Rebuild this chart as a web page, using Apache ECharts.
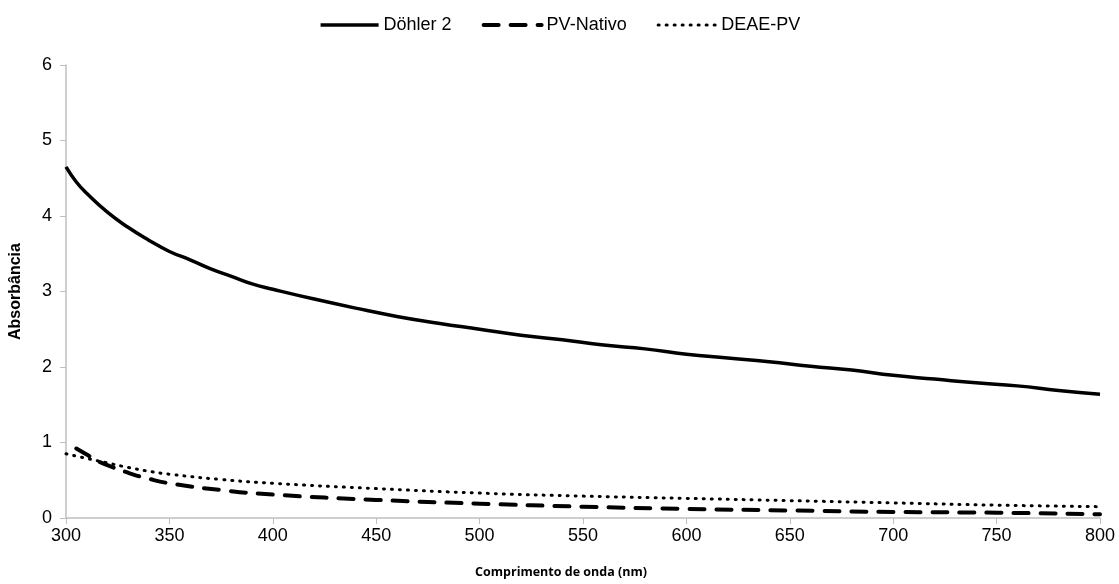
<!DOCTYPE html>
<html>
<head>
<meta charset="utf-8">
<script src="https://cdn.jsdelivr.net/npm/echarts@6/dist/echarts.min.js"></script>
<style>
  html, body { margin: 0; padding: 0; background: #fff; }
  #main { width: 1119px; height: 584px; }
</style>
</head>
<body>
<div id="main"></div>
<script>
// valores (comprimento de onda em nm, absorbância)
var seriesNames = ['Döhler 2', 'PV-Nativo', 'DEAE-PV'];

var dohlerX = [300, 305, 310, 320, 330, 340, 350, 360, 370, 380, 390, 400, 420, 440, 460, 480, 500, 520, 540, 560, 580, 600, 620, 640, 660, 680, 700, 720, 740, 760, 780, 800];
var dohlerY = [4.65, 4.45, 4.3, 4.05, 3.85, 3.68, 3.53, 3.42, 3.3, 3.2, 3.1, 3.03, 2.9, 2.78, 2.67, 2.58, 2.5, 2.42, 2.36, 2.29, 2.24, 2.17, 2.12, 2.07, 2.01, 1.96, 1.89, 1.84, 1.79, 1.75, 1.69, 1.64];

var nativoX = [305, 310, 315, 320, 330, 340, 350, 375, 400, 450, 500, 550, 600, 650, 700, 750, 800];
var nativoY = [0.92, 0.84, 0.76, 0.7, 0.6, 0.52, 0.46, 0.37, 0.31, 0.24, 0.19, 0.15, 0.12, 0.1, 0.08, 0.07, 0.05];

var deaeX = [300, 310, 320, 330, 340, 350, 375, 400, 450, 500, 550, 600, 650, 700, 750, 800];
var deaeY = [0.85, 0.79, 0.73, 0.67, 0.62, 0.58, 0.51, 0.46, 0.39, 0.33, 0.29, 0.26, 0.23, 0.2, 0.17, 0.15];

function pares(xs, ys) {
    return xs.map(function (x, i) { return [x, ys[i]]; });
}

var estilos = [
    { color: '#000', width: 3.5 },
    { color: '#000', width: 4, type: [15, 12], cap: 'round' },
    { color: '#000', width: 3, type: [1, 7], cap: 'round' }
];

var myChart = echarts.init(document.getElementById('main'));
myChart.setOption({
    backgroundColor: '#fff',
    animation: false,
    textStyle: { fontFamily: 'Liberation Sans' },
    legend: {
        top: 11,
        left: 'center',
        itemWidth: 58,
        itemHeight: 10,
        itemGap: 30,
        itemStyle: { opacity: 0 },
        textStyle: { fontSize: 18, color: '#000', fontFamily: 'Liberation Sans' },
        data: seriesNames.map(function (n, i) {
            return { name: n, lineStyle: estilos[i] };
        })
    },
    grid: {
        left: 64,
        right: 19,
        top: 65,
        bottom: 65
    },
    xAxis: {
        type: 'value',
        min: 300,
        max: 800,
        interval: 50,
        name: 'Comprimento de onda (nm)',
        nameLocation: 'middle',
        nameGap: 48,
        nameTextStyle: { fontSize: 12.5, fontWeight: 'bold', color: '#000', fontFamily: 'Open Sans', padding: [0, 44, 0, 0] },
        axisLine: { lineStyle: { color: '#bfbfbf', width: 1.5 } },
        axisTick: { length: 6, lineStyle: { color: '#bfbfbf' } },
        axisLabel: { fontSize: 18, color: '#000', margin: 9 },
        splitLine: { show: false }
    },
    yAxis: {
        type: 'value',
        min: 0,
        max: 6,
        interval: 1,
        name: 'Absorbância',
        nameLocation: 'middle',
        nameGap: 42,
        nameTextStyle: { fontSize: 16, fontWeight: 'bold', color: '#000' },
        axisLine: { show: true, lineStyle: { color: '#bfbfbf', width: 1.5 } },
        axisTick: { show: true, length: 6, lineStyle: { color: '#bfbfbf' } },
        axisLabel: { fontSize: 18, color: '#000', margin: 14 },
        splitLine: { show: false }
    },
    series: [
        {
            name: seriesNames[0],
            type: 'line',
            showSymbol: false,
            symbol: 'none',
            smooth: true,
            data: pares(dohlerX, dohlerY),
            itemStyle: { color: '#000' },
            lineStyle: estilos[0]
        },
        {
            name: seriesNames[1],
            type: 'line',
            showSymbol: false,
            symbol: 'none',
            smooth: true,
            data: pares(nativoX, nativoY),
            itemStyle: { color: '#000' },
            lineStyle: estilos[1]
        },
        {
            name: seriesNames[2],
            type: 'line',
            showSymbol: false,
            symbol: 'none',
            smooth: true,
            data: pares(deaeX, deaeY),
            itemStyle: { color: '#000' },
            lineStyle: estilos[2]
        }
    ]
});
</script>
</body>
</html>
